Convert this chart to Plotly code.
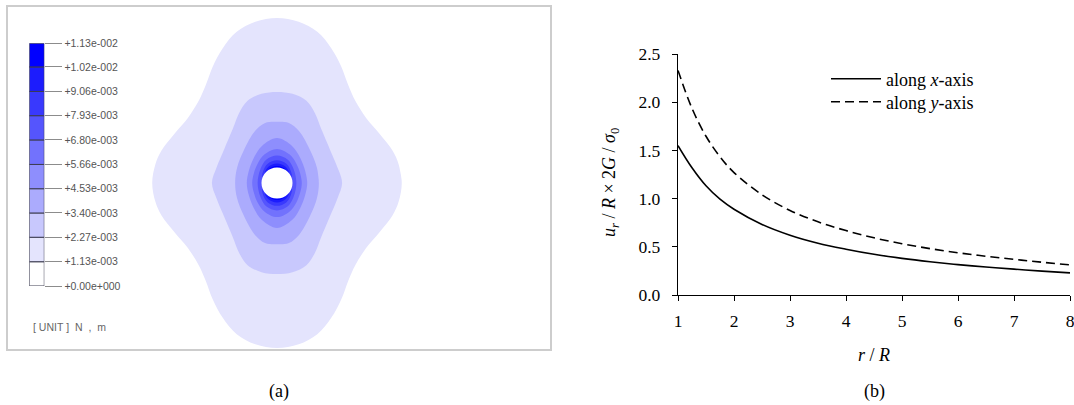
import plotly.graph_objects as go

W, H = 1074, 405

# ---------------- panel (b): radial displacement ----------------
r_R = [1, 1.25, 1.5, 1.75, 2, 2.5, 3, 3.5, 4, 4.5, 5, 5.5, 6, 6.5, 7, 7.5, 8]
u_along_x = [1.55, 1.32, 1.133, 0.994, 0.89, 0.732, 0.62, 0.537, 0.475, 0.422,
             0.38, 0.345, 0.315, 0.29, 0.268, 0.248, 0.23]
u_along_y = [2.33, 1.936, 1.647, 1.434, 1.27, 1.04, 0.877, 0.759, 0.668, 0.593,
             0.532, 0.481, 0.438, 0.402, 0.37, 0.34, 0.3125]
x_ticks = [1, 2, 3, 4, 5, 6, 7, 8]
y_ticks = [0.0, 0.5, 1.0, 1.5, 2.0, 2.5]

# ---------------- panel (a): contour legend ----------------
LEVELS = [0.0, 1.13e-3, 2.27e-3, 3.40e-3, 4.53e-3, 5.66e-3,
          6.80e-3, 7.93e-3, 9.06e-3, 1.02e-2, 1.13e-2]
LEVEL_LABELS = ["+0.00e+000", "+1.13e-003", "+2.27e-003", "+3.40e-003",
                "+4.53e-003", "+5.66e-003", "+6.80e-003", "+7.93e-003",
                "+9.06e-003", "+1.02e-002", "+1.13e-002"]
BAND_COLORS = ["#ffffff", "#e4e4fd", "#c8c8fd", "#ababfd", "#8e8efd",
               "#7272fd", "#5555fd", "#3939fd", "#1c1cfd", "#0000ff"]

# contour outlines (first quadrant, in units of hole radius R)
HOLE_R = 1.0
C1_X = [8.05, 7.85, 7.45, 6.6, 5.75, 5.05, 4.6, 4.15, 3.5, 2.6, 1.4, 0.0]
C1_Y = [0.0, 1.2, 2.1, 3.2, 4.2, 5.3, 6.3, 7.5, 8.7, 9.75, 10.4, 10.65]
C2_X = [4.2, 3.9, 3.4, 2.85, 2.45, 1.9, 1.0, 0.0]
C2_Y = [0.0, 1.0, 2.2, 3.5, 4.5, 5.3, 5.75, 5.87]
C3_X = [2.7, 2.58, 2.13, 1.42, 0.77, 0.0]
C3_Y = [0.0, 0.97, 2.13, 3.35, 3.87, 3.95]
C4_X = [1.95, 1.82, 1.5, 0.97, 0.0]
C4_Y = [0.0, 0.77, 1.61, 2.39, 2.9]
C5_X = [1.6, 1.5, 1.25, 0.8, 0.0]
C5_Y = [0.0, 0.6, 1.25, 1.85, 2.2]
C6_X = [1.25, 1.2, 1.05, 0.7, 0.0]
C6_Y = [0.0, 0.45, 0.95, 1.5, 1.77]
C7_X = [0.5, 0.95, 0.9, 0.6, 0.0]
C7_Y = [0.0, 0.31, 0.75, 1.25, 1.47]
C8_X = [0.4, 0.78, 0.6, 0.3, 0.0]
C8_Y = [0.0, 0.63, 1.0, 1.2, 1.26]
C9_X = [0.3, 0.545, 0.35, 0.0]
C9_Y = [0.0, 0.84, 1.02, 1.1]
CONTOURS = [(C1_X, C1_Y), (C2_X, C2_Y), (C3_X, C3_Y), (C4_X, C4_Y), (C5_X, C5_Y),
            (C6_X, C6_Y), (C7_X, C7_Y), (C8_X, C8_Y), (C9_X, C9_Y)]


def full_outline(qx, qy):
    """Mirror a first-quadrant outline into a closed, symmetric outline."""
    xs = list(qx)
    ys = list(qy)
    xs += [-v for v in qx[-2::-1]]
    ys += list(qy[-2::-1])
    xs += [-v for v in qx[1:]]
    ys += [-v for v in qy[1:]]
    xs += list(qx[-2::-1])
    ys += [-v for v in qy[-2::-1]]
    xs += [qx[1]]
    ys += [qy[1]]
    return xs, ys


fig = go.Figure()

for k, (qx, qy) in enumerate(CONTOURS, start=1):
    xs, ys = full_outline(qx, qy)
    fig.add_trace(go.Scatter(
        x=xs, y=ys, mode="lines", fill="toself", fillcolor=BAND_COLORS[k],
        line=dict(width=0, shape="spline", smoothing=1.0, color=BAND_COLORS[k]),
        xaxis="x2", yaxis="y2", hoverinfo="skip", showlegend=False))

fig.add_trace(go.Bar(
    x=[0] * (len(LEVELS) - 1),
    y=[LEVELS[i + 1] - LEVELS[i] for i in range(len(LEVELS) - 1)],
    base=LEVELS[:-1], width=1.0,
    marker=dict(color=BAND_COLORS, line=dict(color="#3c3c50", width=1)),
    xaxis="x3", yaxis="y3", hoverinfo="skip", showlegend=False))

fig.add_trace(go.Scatter(
    x=r_R, y=u_along_x, mode="lines", name="along <i>x</i>-axis", legend="legend",
    line=dict(color="black", width=1.6, shape="spline")))
fig.add_trace(go.Scatter(
    x=r_R, y=u_along_y, mode="lines", name="along <i>y</i>-axis", legend="legend2",
    line=dict(color="black", width=1.6, shape="spline", dash="9px,5px")))

serif = "Liberation Serif, Times New Roman, serif"
sans = "Liberation Sans, Arial, sans-serif"

leg_common = dict(xanchor="left", yanchor="middle",
                  font=dict(family=serif, size=18, color="black"),
                  bgcolor="rgba(0,0,0,0)", borderwidth=0, itemwidth=50)

fig.update_layout(
    template="none",
    width=W, height=H,
    margin=dict(l=0, r=0, t=0, b=0, autoexpand=False),
    paper_bgcolor="white", plot_bgcolor="rgba(0,0,0,0)",
    barmode="overlay",
    showlegend=True,
    legend=dict(x=826 / W, y=1 - 79 / H, **leg_common),
    legend2=dict(x=826 / W, y=1 - 102 / H, **leg_common),
    xaxis=dict(domain=[678 / W, 1070 / W], range=[1, 8], tickvals=x_ticks,
               ticks="outside", ticklen=5, tickwidth=1.2, tickcolor="black",
               showline=True, linecolor="black", linewidth=1.3, automargin=False,
               showgrid=False, zeroline=False, anchor="y", ticklabelstandoff=5,
               ticklabeloverflow="allow",
               tickfont=dict(family=serif, size=17.5, color="black")),
    yaxis=dict(domain=[1 - 295 / H, 1 - 54 / H], range=[0, 2.5], tickvals=y_ticks,
               tickformat=".1f", ticks="outside", ticklen=5, tickwidth=1.2,
               tickcolor="black", showline=True, linecolor="black", linewidth=1.3,
               showgrid=False, zeroline=False, anchor="x", ticklabelstandoff=8,
               automargin=False, ticklabeloverflow="allow",
               tickfont=dict(family=serif, size=17.5, color="black")),
    xaxis2=dict(domain=[127 / W, 427 / W], range=[-150 / 15.5, 150 / 15.5],
                visible=False, anchor="y2", automargin=False),
    yaxis2=dict(domain=[1 - 353 / H, 1 - 13 / H], range=[-170 / 15.5, 170 / 15.5],
                visible=False, anchor="x2", automargin=False),
    xaxis3=dict(domain=[29.3 / W, 44.3 / W], range=[-0.5, 0.5],
                visible=False, anchor="y3", automargin=False),
    yaxis3=dict(domain=[1 - 286 / H, 1 - 43.3 / H], range=[0, LEVELS[-1]],
                anchor="x3", side="right", tickvals=LEVELS, ticktext=LEVEL_LABELS,
                ticks="outside", ticklen=17, tickwidth=1, tickcolor="#8c8c8c",
                showline=False, showgrid=False, zeroline=False, automargin=False,
                ticklabeloverflow="allow",
                tickfont=dict(family=sans, size=10.5, color="#555555")),
    shapes=[
        dict(type="rect", xref="paper", yref="paper", x0=7 / W, x1=551 / W,
             y0=1 - 350 / H, y1=1 - 6 / H, line=dict(color="#cdcdcd", width=2),
             fillcolor="rgba(0,0,0,0)", layer="below"),
        dict(type="circle", xref="x2", yref="y2", x0=-HOLE_R, x1=HOLE_R,
             y0=-HOLE_R, y1=HOLE_R, fillcolor="white", line=dict(width=0),
             layer="above"),
    ],
    annotations=[
        dict(text="[\u00a0UNIT\u00a0]\u00a0\u00a0N\u00a0\u00a0,\u00a0\u00a0m",
             xref="paper", yref="paper", x=31 / W, y=1 - 327 / H,
             xanchor="left", yanchor="middle", showarrow=False,
             font=dict(family=sans, size=10.5, color="#666666")),
        dict(text="(a)", xref="paper", yref="paper", x=279 / W, y=1 - 391 / H,
             xanchor="center", yanchor="middle", showarrow=False,
             font=dict(family=serif, size=18, color="black")),
        dict(text="(b)", xref="paper", yref="paper", x=874 / W, y=1 - 391 / H,
             xanchor="center", yanchor="middle", showarrow=False,
             font=dict(family=serif, size=18, color="black")),
        dict(text="<i>r</i> / <i>R</i>", xref="paper", yref="paper",
             x=874 / W, y=1 - 355 / H, xanchor="center", yanchor="middle",
             showarrow=False, font=dict(family=serif, size=18, color="black")),
        dict(text="<i>u<sub>r</sub></i> / <i>R</i> \u00d7 2<i>G</i> / <i>\u03c3</i><sub>0</sub>",
             xref="paper", yref="paper", x=610 / W, y=1 - 183 / H,
             xanchor="center", yanchor="middle", textangle=-90,
             showarrow=False, font=dict(family=serif, size=18, color="black")),
    ],
)

fig.write_html("out.html",
               config={"displayModeBar": False},
               post_script="document.body.style.margin='0px';"
                           "document.body.style.padding='0px';")
